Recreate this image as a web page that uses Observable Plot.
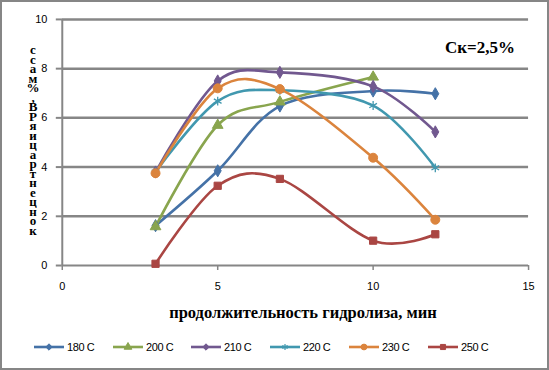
<!DOCTYPE html>
<html>
<head>
<meta charset="utf-8">
<script src="https://cdn.jsdelivr.net/npm/d3@7"></script>
<script src="https://cdn.jsdelivr.net/npm/@observablehq/plot@0.6"></script>
<style>
  html, body { margin: 0; padding: 0; background: #fff; }
  #wrap { position: relative; width: 549px; height: 370px; box-sizing: border-box; border: 2px solid #868686; overflow: hidden; }
  #chart { position: absolute; left: -2px; top: -2px; }
  .serifb { font-family: "Liberation Serif", "Times New Roman", serif; font-weight: bold; color: #000; position: absolute; white-space: nowrap; }
  #ylab { position: absolute; left: 24px; top: 43px; width: 14px; text-align: center; font-family: "Liberation Serif", serif; font-weight: bold; font-size: 13px; line-height: 9.5px; white-space: pre; }
  .leg { position: absolute; top: 338px; height: 14px; font-family: "Liberation Sans", Arial, sans-serif; font-size: 11px; display: flex; align-items: center; }
  .leg span { margin-left: 2px; letter-spacing: -0.4px; }
</style>
</head>
<body>
<div id="wrap">
  <div id="chart"></div>
  <div id="ylab"></div>
  <div class="serifb" id="title" style="left:443px; top:36px; font-size:17px;"></div>
  <div class="serifb" id="xlab" style="left:-2px; width:606px; text-align:center; top:301px; font-size:16.5px;"></div>
  <div id="legend"></div>
</div>
<script>
const xTimes = [3, 5, 7, 10, 12];
const seriesNames = ["180 C", "200 C", "210 C", "220 C", "230 C", "250 C"];
const s180 = [1.62, 3.85, 6.48, 7.09, 6.98];
const s200 = [1.58, 5.7, 6.65, 7.66, null];
const s210 = [3.8, 7.5, 7.85, 7.28, 5.43];
const s220 = [3.8, 6.68, 7.12, 6.5, 3.97];
const s230 = [3.75, 7.2, 7.17, 4.38, 1.86];
const s250 = [0.07, 3.24, 3.52, 1.01, 1.27];
const seriesValues = [s180, s200, s210, s220, s230, s250];
const seriesColors = ["#4572A7", "#89A54E", "#71588F", "#4198AF", "#DB843D", "#AA4643"];
const seriesSymbols = ["diamond", "triangle", "diamond", "asterisk", "circle", "square"];
const xTicks = [0, 5, 10, 15];
const yTicks = [0, 2, 4, 6, 8, 10];
const gridValues = [2, 4, 6, 8, 10];
const titleText = "Ск=2,5%";
const xLabelText = "продолжительность гидролиза, мин";
const yLabelText = "концентрация РВ, % масс";

const rows = [];
seriesValues.forEach((vals, i) => {
  vals.forEach((v, j) => { if (v != null) rows.push({series: seriesNames[i], x: xTimes[j], y: v}); });
});

const symR = {diamond: 3.7, triangle: 4, asterisk: 4.2, circle: 4.5, square: 4.1};
const lineMarks = [];
seriesNames.forEach((name, i) => {
  const data = rows.filter(r => r.series === name);
  lineMarks.push(Plot.line(data, {x: "x", y: "y", stroke: seriesColors[i], strokeWidth: 2.6, curve: "cardinal"}));
});
seriesNames.forEach((name, i) => {
  const data = rows.filter(r => r.series === name);
  const sym = seriesSymbols[i];
  lineMarks.push(Plot.dot(data, {x: "x", y: "y", symbol: () => sym, r: symR[sym],
    fill: sym === "asterisk" ? "none" : seriesColors[i],
    stroke: seriesColors[i], strokeWidth: sym === "asterisk" ? 1.3 : 1}));
});

const plot = Plot.plot({
  width: 549, height: 370,
  marginLeft: 62, marginRight: 19, marginTop: 19, marginBottom: 104,
  x: {domain: [0, 15]},
  y: {domain: [0, 10]},
  symbol: {type: "identity"},
  style: {fontFamily: "Liberation Sans, Arial, sans-serif", fontSize: "11px", color: "#000", background: "transparent"},
  marks: [
    Plot.ruleY(gridValues, {stroke: "#868686", strokeWidth: 2.5}),
    Plot.ruleY([0], {stroke: "#868686", strokeWidth: 2}),
    Plot.ruleX([0], {stroke: "#868686", strokeWidth: 2}),
    Plot.axisY({ticks: yTicks, tickSize: 6, tickPadding: 9, stroke: "#868686", strokeWidth: 2, strokeOpacity: 1, fontSize: 11, label: null}),
    Plot.axisX({ticks: xTicks, tickSize: 5, tickPadding: 12, stroke: "#868686", strokeWidth: 1.5, strokeOpacity: 1, fontSize: 11, label: null}),
    ...lineMarks
  ]
});
document.getElementById("chart").appendChild(plot);

document.getElementById("title").textContent = titleText;
document.getElementById("xlab").textContent = xLabelText;
// stacked letters, read bottom-to-top, kept as one text block
const chars = Array.from(yLabelText.replace(/ /g, "")).reverse();
document.getElementById("ylab").textContent = chars.join("\n");

// legend
const legendLeft = [31, 110, 188, 267, 346, 425];
const legend = document.getElementById("legend");
const symMap = {diamond: d3.symbolDiamond2, triangle: d3.symbolTriangle, asterisk: d3.symbolAsterisk, circle: d3.symbolCircle, square: d3.symbolSquare};
seriesNames.forEach((name, i) => {
  const item = document.createElement("div");
  item.className = "leg";
  item.style.left = legendLeft[i] + "px";
  const svg = d3.create("svg").attr("width", 32).attr("height", 12);
  svg.append("line").attr("x1", 1).attr("x2", 31).attr("y1", 6).attr("y2", 6)
    .attr("stroke", seriesColors[i]).attr("stroke-width", 2.6);
  const sym = seriesSymbols[i];
  svg.append("path").attr("transform", "translate(16,6)")
    .attr("d", d3.symbol(symMap[sym], 26)())
    .attr("fill", sym === "asterisk" ? "none" : seriesColors[i])
    .attr("stroke", seriesColors[i]).attr("stroke-width", sym === "asterisk" ? 1.2 : 1);
  item.appendChild(svg.node());
  const t = document.createElement("span");
  t.textContent = name;
  item.appendChild(t);
  legend.appendChild(item);
});
</script>
</body>
</html>
